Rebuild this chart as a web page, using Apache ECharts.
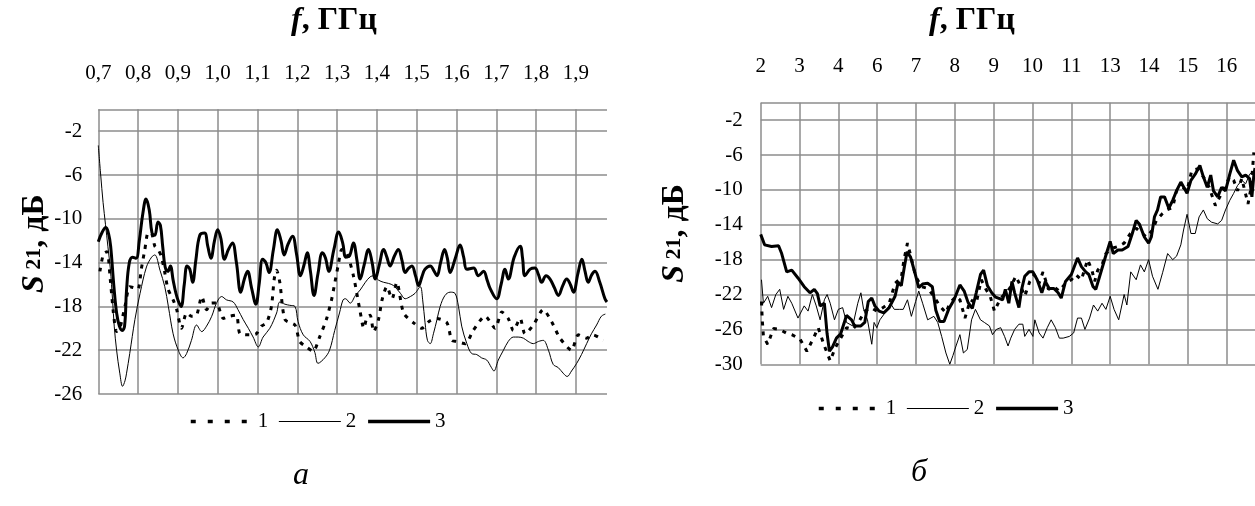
<!DOCTYPE html>
<html><head><meta charset="utf-8">
<script src="https://cdn.jsdelivr.net/npm/echarts@6/dist/echarts.min.js"></script>
<style>html,body{margin:0;padding:0;background:#fff}#c{width:1255px;height:506px}</style>
</head><body><div id="c"></div>
<script>
// ---------- tick labels ----------
const xLabelsA = ['0,7','0,8','0,9','1,0','1,1','1,2','1,3','1,4','1,5','1,6','1,7','1,8','1,9'];
const xLabelsB = ['2','3','4','6','7','8','9','10','11','13','14','15','16'];
const seriesNames = ['1','2','3'];

// ---------- chart a (x in GHz) ----------
const a3F = [0.700,0.710,0.719,0.726,0.731,0.739,0.746,0.753,0.760,0.766,0.771,0.778,0.786,0.795,0.803,0.812,0.820,0.828,0.835,0.842,0.850,0.856,0.862,0.868,0.875,0.881,0.888,0.895,0.901,0.908,0.916,0.923,0.930,0.937,0.945,0.955,0.967,0.975,0.983,0.992,1.000,1.008,1.017,1.027,1.037,1.047,1.058,1.067,1.075,1.085,1.096,1.104,1.113,1.121,1.129,1.140,1.150,1.159,1.167,1.177,1.188,1.198,1.208,1.217,1.225,1.233,1.242,1.252,1.263,1.271,1.279,1.292,1.304,1.314,1.322,1.331,1.341,1.350,1.358,1.368,1.379,1.388,1.396,1.406,1.417,1.425,1.433,1.444,1.454,1.463,1.471,1.480,1.488,1.497,1.505,1.513,1.521,1.534,1.544,1.551,1.560,1.570,1.577,1.584,1.597,1.609,1.618,1.626,1.643,1.655,1.668,1.677,1.685,1.701,1.712,1.722,1.730,1.745,1.760,1.766,1.772,1.785,1.797,1.806,1.814,1.825,1.835,1.846,1.856,1.867,1.877,1.886,1.894,1.905,1.915,1.923,1.931,1.940,1.948,1.960,1.973,1.978];
const a3S = [-12.1,-11.2,-10.8,-11.4,-12.5,-16.1,-18.6,-19.8,-20.2,-19.8,-16.5,-14.0,-13.5,-13.6,-12.0,-9.5,-8.2,-9.2,-11.3,-11.5,-10.3,-10.6,-12.6,-14.4,-14.8,-14.3,-15.6,-16.8,-17.5,-18.0,-16.0,-14.3,-14.6,-15.8,-13.8,-11.5,-11.3,-12.5,-13.6,-12.0,-11.0,-11.8,-13.7,-12.8,-12.2,-14.0,-16.7,-15.5,-14.8,-16.3,-17.8,-16.0,-13.7,-14.0,-14.9,-12.8,-11.0,-12.0,-13.3,-12.3,-11.6,-13.2,-15.2,-14.2,-13.1,-14.8,-17.0,-15.0,-13.1,-13.6,-14.8,-12.8,-11.2,-12.2,-13.5,-13.4,-12.2,-13.8,-15.5,-14.2,-12.8,-14.0,-15.5,-14.2,-12.8,-13.5,-14.3,-13.4,-12.8,-13.8,-14.9,-14.5,-14.3,-15.2,-16.1,-15.3,-14.6,-14.3,-14.8,-15.2,-14.0,-12.8,-13.6,-14.9,-13.6,-12.4,-13.5,-14.6,-14.5,-15.2,-14.8,-15.6,-16.4,-17.3,-16.0,-14.6,-15.5,-13.5,-12.5,-13.6,-15.2,-14.6,-14.5,-15.1,-15.8,-15.2,-15.5,-16.3,-17.0,-16.1,-15.5,-16.0,-16.7,-15.0,-13.7,-14.8,-15.8,-15.1,-14.8,-15.8,-17.3,-17.6];

const a2F = [0.700,0.706,0.712,0.718,0.724,0.730,0.736,0.740,0.746,0.754,0.761,0.767,0.771,0.779,0.792,0.805,0.821,0.834,0.842,0.855,0.867,0.876,0.888,0.901,0.913,0.922,0.934,0.947,0.960,0.972,0.985,0.997,1.010,1.022,1.039,1.051,1.064,1.077,1.089,1.102,1.114,1.131,1.148,1.156,1.169,1.181,1.194,1.202,1.215,1.232,1.244,1.252,1.269,1.281,1.294,1.306,1.315,1.321,1.333,1.346,1.358,1.371,1.383,1.392,1.404,1.417,1.429,1.442,1.459,1.471,1.484,1.496,1.509,1.515,1.521,1.527,1.534,1.542,1.551,1.559,1.571,1.584,1.596,1.605,1.613,1.626,1.638,1.651,1.663,1.676,1.688,1.694,1.705,1.718,1.730,1.743,1.755,1.768,1.780,1.793,1.806,1.818,1.831,1.843,1.856,1.868,1.878,1.889,1.902,1.914,1.927,1.939,1.952,1.964,1.974];
const a2S = [-3.3,-6.0,-8.5,-10.5,-12.5,-14.5,-17.5,-19.8,-22.0,-24.1,-25.3,-24.8,-24.1,-22.3,-19.2,-16.8,-14.4,-13.5,-13.3,-14.7,-16.2,-18.0,-20.5,-22.0,-22.7,-22.3,-21.1,-19.7,-20.3,-19.8,-18.9,-17.7,-17.1,-17.4,-17.6,-18.3,-19.2,-20.0,-20.8,-21.7,-20.8,-20.0,-18.6,-17.6,-17.8,-17.9,-18.0,-19.4,-20.6,-21.2,-22.2,-23.2,-22.7,-22.0,-20.2,-18.6,-17.4,-17.3,-17.7,-17.0,-16.5,-15.8,-15.3,-15.2,-15.6,-15.8,-15.9,-16.1,-16.8,-17.3,-17.1,-16.8,-16.2,-17.4,-19.5,-21.1,-21.4,-20.5,-19.2,-18.0,-17.0,-16.7,-16.8,-18.0,-19.8,-21.4,-22.3,-22.4,-22.7,-22.9,-23.6,-23.9,-22.9,-22.0,-21.2,-20.8,-20.8,-20.9,-21.2,-21.4,-21.2,-21.1,-22.0,-23.3,-23.6,-24.1,-24.4,-23.9,-23.2,-22.4,-21.4,-20.5,-19.7,-18.9,-18.7];

const a1F = [0.704,0.713,0.722,0.730,0.738,0.746,0.754,0.767,0.779,0.790,0.800,0.808,0.817,0.825,0.833,0.842,0.850,0.858,0.867,0.875,0.888,0.897,0.909,0.922,0.934,0.947,0.960,0.972,0.985,0.997,1.014,1.030,1.047,1.056,1.081,1.097,1.110,1.123,1.135,1.142,1.148,1.156,1.169,1.194,1.206,1.223,1.240,1.256,1.273,1.286,1.294,1.303,1.312,1.325,1.341,1.358,1.367,1.375,1.383,1.392,1.404,1.413,1.425,1.438,1.450,1.467,1.492,1.513,1.530,1.551,1.576,1.588,1.600,1.622,1.642,1.672,1.697,1.714,1.730,1.743,1.760,1.772,1.793,1.818,1.839,1.860,1.889,1.906,1.927,1.943,1.969];
const a1S = [-14.8,-13.2,-13.0,-15.5,-18.6,-20.3,-20.0,-18.0,-16.2,-16.3,-16.4,-14.6,-12.8,-11.3,-11.3,-12.5,-12.8,-13.4,-14.9,-16.4,-17.4,-18.3,-20.0,-18.6,-18.9,-18.8,-17.1,-18.3,-17.7,-17.7,-19.1,-18.9,-18.8,-20.5,-20.6,-20.5,-19.8,-19.5,-18.0,-15.5,-14.7,-15.8,-19.2,-19.7,-21.2,-21.7,-22.1,-20.8,-19.2,-17.4,-15.9,-14.2,-12.8,-13.2,-15.2,-18.5,-20.0,-19.0,-18.8,-20.3,-19.2,-17.4,-16.2,-17.3,-15.8,-18.6,-19.5,-20.0,-19.4,-19.1,-19.5,-21.1,-21.2,-21.4,-20.2,-18.9,-20.0,-18.5,-19.1,-20.2,-19.1,-20.5,-19.7,-18.3,-19.4,-20.9,-22.0,-20.6,-20.9,-20.6,-21.1];

// ---------- chart b (x in tick-position units: 0 = "2", 12 = "16") ----------
const b3X = [0.00,0.10,0.28,0.46,0.54,0.67,0.80,0.96,1.12,1.27,1.38,1.46,1.53,1.64,1.71,1.77,1.85,1.95,2.06,2.21,2.34,2.42,2.58,2.68,2.77,2.86,2.94,3.05,3.17,3.31,3.46,3.54,3.62,3.70,3.77,3.86,3.97,4.07,4.17,4.30,4.42,4.51,4.61,4.72,4.84,4.98,5.13,5.24,5.34,5.45,5.55,5.66,5.74,5.84,5.95,6.05,6.23,6.30,6.39,6.47,6.54,6.65,6.72,6.80,6.91,7.01,7.12,7.24,7.33,7.43,7.55,7.66,7.74,7.85,8.00,8.16,8.26,8.37,8.45,8.56,8.63,8.73,8.89,9.00,9.08,9.20,9.31,9.46,9.57,9.67,9.75,9.88,9.99,10.06,10.14,10.22,10.30,10.40,10.51,10.61,10.71,10.82,10.92,10.98,11.08,11.19,11.31,11.40,11.50,11.59,11.66,11.77,11.87,11.97,12.08,12.18,12.28,12.39,12.49,12.59,12.65,12.70,12.73];
const b3S = [-15.1,-16.3,-16.5,-16.4,-17.3,-19.4,-19.2,-20.1,-21.1,-21.8,-21.4,-21.9,-23.3,-23.0,-26.5,-28.5,-28.0,-27.0,-26.5,-24.4,-24.9,-25.6,-25.6,-25.2,-22.8,-22.4,-23.3,-23.9,-24.1,-23.5,-22.2,-20.6,-21.0,-18.8,-17.1,-17.7,-19.5,-21.2,-20.8,-20.7,-21.1,-23.8,-25.1,-25.1,-23.7,-22.6,-20.9,-21.6,-22.9,-23.6,-21.8,-19.7,-19.2,-21.0,-21.8,-22.3,-22.6,-21.4,-23.0,-20.5,-21.8,-23.5,-21.4,-19.9,-19.4,-19.4,-20.3,-21.8,-20.5,-21.3,-21.3,-21.8,-22.4,-20.5,-19.7,-17.8,-18.8,-19.4,-19.7,-21.1,-21.4,-19.9,-17.5,-15.9,-17.3,-16.9,-16.9,-16.5,-15.0,-13.5,-13.9,-15.4,-16.1,-15.4,-13.1,-12.3,-10.8,-10.8,-12.1,-11.2,-10.1,-9.1,-9.9,-10.4,-8.9,-8.2,-7.2,-8.5,-9.7,-8.3,-10.1,-10.8,-9.7,-10.1,-8.2,-6.6,-7.8,-8.5,-8.3,-8.7,-10.8,-8.3,-7.5];

const b2X = [0.02,0.07,0.18,0.28,0.39,0.49,0.59,0.70,0.80,0.96,1.12,1.22,1.33,1.43,1.53,1.64,1.71,1.79,1.90,2.00,2.11,2.21,2.37,2.50,2.58,2.65,2.75,2.86,2.92,2.99,3.07,3.20,3.34,3.44,3.57,3.67,3.78,3.88,3.99,4.07,4.17,4.30,4.46,4.56,4.66,4.77,4.87,4.95,5.03,5.13,5.22,5.32,5.43,5.53,5.66,5.76,5.89,5.97,6.07,6.18,6.28,6.37,6.44,6.54,6.65,6.75,6.80,6.91,7.01,7.06,7.17,7.27,7.38,7.48,7.59,7.69,7.79,7.95,8.06,8.16,8.26,8.35,8.47,8.57,8.68,8.79,8.89,9.00,9.10,9.22,9.36,9.43,9.53,9.67,9.78,9.88,9.99,10.09,10.23,10.35,10.48,10.61,10.71,10.82,10.89,10.98,11.08,11.19,11.29,11.40,11.50,11.61,11.77,11.87,11.97,12.08,12.18,12.28,12.39,12.49,12.59,12.70];
const b2S = [-20.3,-23.0,-22.2,-23.5,-22.0,-21.4,-23.7,-22.2,-23.0,-24.7,-23.3,-23.9,-22.0,-23.3,-24.9,-22.6,-22.0,-23.0,-24.9,-23.7,-23.5,-25.2,-25.6,-23.0,-21.8,-23.7,-24.9,-27.7,-25.2,-25.8,-24.9,-24.1,-23.0,-23.7,-23.7,-23.7,-22.6,-24.5,-22.8,-21.6,-23.0,-24.9,-24.5,-25.2,-26.8,-28.7,-30.0,-29.0,-27.9,-26.6,-28.7,-28.3,-24.9,-23.7,-24.9,-25.2,-25.6,-26.6,-26.0,-25.8,-26.8,-27.9,-27.0,-26.0,-25.4,-25.4,-26.8,-26.0,-26.8,-24.9,-26.4,-27.0,-25.8,-24.9,-25.8,-27.0,-27.0,-26.8,-26.4,-24.7,-24.7,-26.0,-24.7,-23.2,-23.9,-23.0,-23.7,-22.2,-23.7,-24.9,-22.0,-23.2,-19.4,-20.3,-18.6,-19.4,-18.0,-19.9,-21.4,-19.5,-17.3,-18.0,-17.6,-16.3,-14.6,-12.8,-15.0,-15.0,-13.1,-12.3,-13.3,-13.7,-13.9,-13.5,-12.3,-11.2,-10.4,-9.5,-8.9,-9.3,-8.2,-7.8];

const b1X = [0.02,0.04,0.07,0.18,0.33,0.49,0.65,0.80,1.01,1.19,1.38,1.48,1.64,1.79,1.92,2.06,2.21,2.37,2.53,2.68,2.84,2.99,3.15,3.31,3.46,3.62,3.69,3.78,3.86,3.99,4.14,4.30,4.46,4.61,4.77,4.87,5.03,5.13,5.26,5.40,5.55,5.68,5.80,5.91,6.02,6.18,6.33,6.44,6.57,6.70,6.80,6.93,7.04,7.17,7.27,7.41,7.55,7.69,7.85,8.00,8.11,8.26,8.42,8.53,8.60,8.68,8.79,8.89,9.05,9.20,9.36,9.52,9.67,9.83,9.93,10.09,10.19,10.35,10.46,10.61,10.71,10.87,10.98,11.10,11.24,11.40,11.55,11.71,11.87,11.97,12.08,12.18,12.28,12.39,12.55,12.63,12.70];
const b1S = [-22.8,-24.9,-26.8,-27.7,-25.9,-26.0,-26.4,-26.6,-27.1,-28.5,-26.8,-25.8,-27.9,-29.6,-28.1,-27.0,-25.8,-26.0,-25.1,-23.9,-23.5,-23.9,-23.5,-23.0,-20.7,-20.1,-18.0,-16.1,-17.5,-19.9,-21.1,-21.3,-22.2,-23.3,-24.1,-23.0,-22.2,-22.6,-24.7,-22.6,-23.0,-20.3,-21.4,-22.2,-23.9,-22.4,-21.8,-21.1,-19.9,-21.1,-22.2,-20.5,-19.7,-20.7,-19.4,-21.4,-21.1,-21.6,-20.7,-20.3,-19.7,-20.3,-18.0,-19.2,-20.5,-19.2,-18.6,-17.3,-16.7,-16.5,-16.1,-15.0,-14.4,-15.0,-15.4,-14.6,-13.5,-12.7,-12.3,-12.0,-10.1,-9.7,-10.1,-7.8,-7.6,-8.5,-9.7,-11.8,-10.4,-9.5,-8.5,-8.9,-10.1,-8.7,-11.6,-9.7,-5.7];

// ---------- layout ----------
const FONT = 'Liberation Serif';
const GRID_COLOR = '#8c8c8c';
const gridA = {left: 98.3, top: 109.3, width: 508.7, height: 284.7};
const gridB = {left: 760.7, top: 102.7, width: 494.3, height: 261.6};
const cellA = 39.8, cellB = 38.83;

const pairs = (xs, ys) => xs.map((x, i) => [x, ys[i]]);
const styles = {
  '1': {width: 3, type: [4, 6], color: '#000', cap: 'butt'},
  '2': {width: 1, color: '#000'},
  '3': {width: 3, color: '#000'}
};
function ser(name, xi, xs, ys, smooth) {
  return {type: 'line', name, xAxisIndex: xi, yAxisIndex: xi, data: pairs(xs, ys),
    symbol: 'none', showSymbol: false, smooth, lineStyle: styles[name],
    itemStyle: {color: '#000'}, z: name === '3' ? 4 : 3, clip: true, silent: true};
}
function splitColors(n) { const c = []; for (let i = 0; i < n; i++) c.push(GRID_COLOR); c.push('rgba(0,0,0,0)'); return c; }

function yName(pad) {
  return {
    name: '{i|S}{s| 21}{b|, дБ}', nameLocation: 'middle', nameRotate: 90,
    nameTextStyle: {color: '#000', fontFamily: FONT, padding: pad, rich: {
      i: {fontFamily: FONT, fontStyle: 'italic', fontWeight: 'bold', fontSize: 32, color: '#000'},
      s: {fontFamily: FONT, fontWeight: 'bold', fontSize: 22, color: '#000'},
      b: {fontFamily: FONT, fontWeight: 'bold', fontSize: 32, color: '#000'}}}
  };
}
function yAxis(gi, min, gap, margin, pad) {
  return Object.assign({gridIndex: gi, type: 'value', min, max: 0, interval: 4, nameGap: gap,
    axisLine: {show: false}, axisTick: {show: false},
    splitLine: {show: true, lineStyle: {color: GRID_COLOR, width: 1.5}},
    axisLabel: {margin, color: '#000', fontFamily: FONT, fontSize: 21,
      formatter: v => (Math.abs(v) < 1e-9 ? '' : String(Math.round(v)))}}, yName(pad));
}
const legendItems = [
  {name: '1', lineStyle: {width: 3.5, type: [5, 12], color: '#000', cap: 'butt'}},
  {name: '2', lineStyle: {width: 1.2, type: 'solid', color: '#000'}},
  {name: '3', lineStyle: {width: 3.5, type: 'solid', color: '#000'}}
];
const legendCommon = {data: legendItems, itemWidth: 62, itemHeight: 14, itemGap: 10, selectedMode: false,
  itemStyle: {color: 'rgba(0,0,0,0)', borderColor: 'rgba(0,0,0,0)', borderWidth: 0},
  textStyle: {color: '#000', fontFamily: FONT, fontSize: 21}};
const titleRich = {i: {fontFamily: FONT, fontStyle: 'italic', fontWeight: 'bold', fontSize: 32, fill: '#000'},
                   b: {fontFamily: FONT, fontWeight: 'bold', fontSize: 32, fill: '#000'}};

const option = {
  animation: false,
  backgroundColor: '#fff',
  grid: [gridA, gridB],
  xAxis: [
    {gridIndex: 0, type: 'value', position: 'top', min: 0.7, max: 0.7 + gridA.width / cellA * 0.1, interval: 0.1,
     axisLine: {show: false}, axisTick: {show: false},
     splitLine: {show: true, lineStyle: {color: splitColors(xLabelsA.length), width: 1.5}},
     axisLabel: {margin: 25, color: '#000', fontFamily: FONT, fontSize: 21, showMaxLabel: false,
       formatter: v => { const k = (v - 0.7) * 10; const r = Math.round(k); return Math.abs(k - r) < 1e-6 && xLabelsA[r] ? xLabelsA[r] : ''; }}},
    {gridIndex: 1, type: 'value', position: 'top', min: 0, max: gridB.width / cellB, interval: 1,
     axisLine: {show: false}, axisTick: {show: false},
     splitLine: {show: true, lineStyle: {color: splitColors(xLabelsB.length), width: 1.5}},
     axisLabel: {margin: 26, color: '#000', fontFamily: FONT, fontSize: 21, showMaxLabel: false,
       formatter: v => { const r = Math.round(v); return Math.abs(v - r) < 1e-6 && xLabelsB[r] ? xLabelsB[r] : ''; }}}
  ],
  yAxis: [yAxis(0, -26, 40, 16, [0, 0, 0, 16]), yAxis(1, -30, 70, 18, 0)],
  legend: [
    Object.assign({left: 184, top: 406}, legendCommon),
    Object.assign({left: 812, top: 393}, legendCommon)
  ],
  graphic: [
    {type: 'text', x: 334, y: 21, style: {text: '{i|f}{b|, ГГц}', align: 'center', verticalAlign: 'middle', rich: titleRich}},
    {type: 'text', x: 972, y: 21, style: {text: '{i|f}{b|, ГГц}', align: 'center', verticalAlign: 'middle', rich: titleRich}},
    {type: 'text', x: 301, y: 476, style: {text: 'а', align: 'center', verticalAlign: 'middle',
      font: 'italic 32px "Liberation Serif"', fill: '#000'}},
    {type: 'text', x: 919, y: 473, style: {text: 'б', align: 'center', verticalAlign: 'middle',
      font: 'italic 32px "Liberation Serif"', fill: '#000'}}
  ],
  series: [
    ser('1', 0, a1F, a1S, 0.25),
    ser('2', 0, a2F, a2S, 0.35),
    ser('3', 0, a3F, a3S, 0.4),
    ser('1', 1, b1X, b1S, false),
    ser('2', 1, b2X, b2S, false),
    ser('3', 1, b3X, b3S, false)
  ]
};
const chart = echarts.init(document.getElementById('c'), null, {renderer: 'canvas', width: 1255, height: 506});
chart.setOption(option);
</script>
</body></html>
